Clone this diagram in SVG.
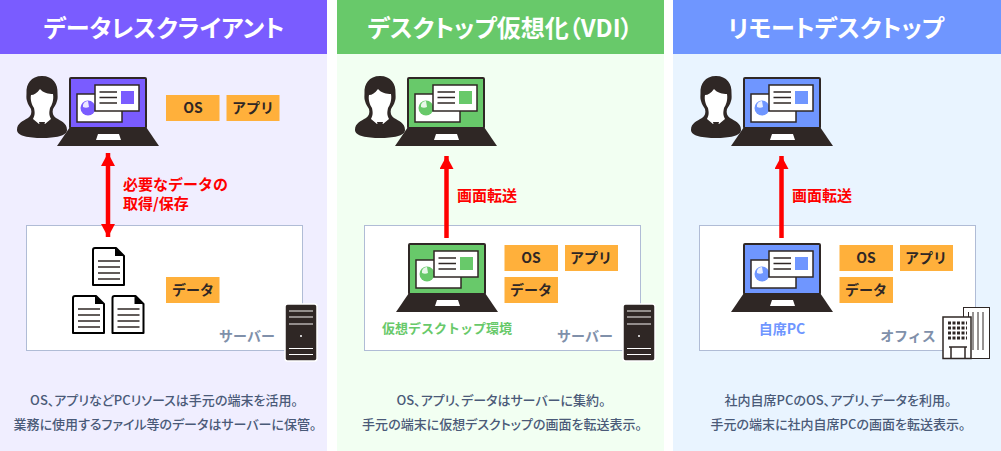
<svg xmlns="http://www.w3.org/2000/svg" xmlns:xlink="http://www.w3.org/1999/xlink" width="1001" height="451" viewBox="0 0 1001 451">
<style>
text{font-family:"Noto Sans CJK JP","Noto Sans",sans-serif;}
.h{font-size:24px;font-weight:700;fill:#fff;text-anchor:middle;font-feature-settings:"palt";}
.t{font-size:14px;font-weight:700;fill:#2f2725;text-anchor:middle;}
.tag{fill:#ffb03b;}
.box{fill:#fff;stroke:#b0bcd6;stroke-width:1;}
.c{font-size:13px;font-weight:500;fill:#4a5a78;text-anchor:middle;font-feature-settings:"palt";}
.g{font-size:14px;font-weight:700;fill:#8090aa;text-anchor:middle;}
.r{font-size:15px;font-weight:700;fill:#f00;}
.d{fill:#2f2725;}
</style>
<defs>
<symbol id="laptop" width="102" height="70" viewBox="0 0 102 70" overflow="visible">
<path class="d" d="M13 50H89L102 69H0Z"/>
<rect x="13" y="1" width="76" height="50" rx="1" fill="currentColor" stroke="#2f2725" stroke-width="2"/>
<path fill="#fff" d="M41 57H62L64 63H39Z"/>
<rect x="20" y="17" width="45" height="28" fill="#fff" stroke="#2f2725" stroke-width="1.5"/>
<circle cx="31" cy="31" r="7.5" fill="currentColor"/>
<path fill="#fff" d="M31 24a5 5 0 0 0-5 6a7 7 0 0 0 6 0z" opacity=".85"/>
<rect x="38" y="8" width="44" height="26" fill="#fff" stroke="#2f2725" stroke-width="1.5"/>
<path d="M42.500 15H60M42.500 20.500H60M42.500 26H60" stroke="#2f2725" stroke-width="1.300"/>
<rect x="64" y="14" width="13" height="13" fill="currentColor"/>
</symbol>
<symbol id="person" width="50" height="63" viewBox="0 0 50 63" overflow="visible">
<path class="d" d="M25 0C14 0 9 8 9.500 17C9.500 20 9 22 10 25C11 29 13 31 14 33C15 37 14 40 11 42C6 45 0 47 0 54C0 60 12 62 25 62C38 62 50 60 50 54C50 47 44 45 39 42C36 40 35 37 36 33C37 31 39 29 40 25C41 22 40.500 20 40.500 17C41 8 36 0 25 0Z"/>
<path fill="#fff" d="M14 19C17 19 20 17 23 13C26 17 32 18 36 18C37 24 35 29 33 32C32 37 32 39 34 43L28 48H22L16 43C18 39 18 37 17 32C15 29 13 24 14 19Z"/>
<path class="d" d="M22 46H28L27 50L29 59H21L23 50Z"/>
</symbol>
<symbol id="doc" width="33" height="40" viewBox="0 0 33 40" overflow="visible">
<path d="M3 1H24L32 9V38H1V3Q1 1 3 1Z" fill="#fff" stroke="#000" stroke-width="2" stroke-linejoin="round"/>
<path d="M23 1V9H32Z" fill="#000"/>
<path d="M6 14H28M6 20H28M6 26H28M6 32H28" stroke="#2f2725" stroke-width="1.300"/>
</symbol>
<symbol id="server" width="34" height="59" viewBox="0 0 34 59" overflow="visible">
<rect x="1" y="1" width="32" height="57" rx="2.500" fill="#2f2725" stroke="#fff" stroke-width="1.500"/>
<path d="M5 8H29" stroke="#b5b0ae" stroke-width="1.500"/><path d="M5 14H29M5 21H29" stroke="#b5b0ae" stroke-width="1.500"/>
<circle cx="17" cy="33" r="1" fill="#fff"/>
<path d="M5 45.500H29M5 51.500H29" stroke="#fff" stroke-width="1"/>
</symbol>
<marker id="ah" markerUnits="userSpaceOnUse" markerWidth="14" markerHeight="14" refX="13" refY="7" orient="auto-start-reverse"><path d="M0 0L13 7L0 14Z" fill="#f00"/></marker>
</defs>

<g id="panel-dataless">
<rect x="0" y="0" width="327" height="451" fill="#f0eeff"/>
<rect x="0" y="0" width="327" height="54" fill="#7a5cff"/>
<text class="h" x="164" y="37">データレスクライアント</text>
<use href="#person" x="17" y="76"/>
<use href="#laptop" x="57" y="77" style="color:#7a5cff"/>
<rect class="tag" x="166" y="95" width="53.500" height="26"/><text class="t" x="193" y="113">OS</text>
<rect class="tag" x="226.500" y="95" width="53" height="26"/><text class="t" x="253" y="113">アプリ</text>
<text class="r" x="123" y="190">必要なデータの</text>
<text class="r" x="123" y="209">取得/保存</text>
<rect class="box" x="26.500" y="225.500" width="276" height="125"/>
<use href="#doc" x="92" y="247"/><use href="#doc" x="72" y="295"/><use href="#doc" x="111.500" y="295"/>
<rect class="tag" x="166" y="277" width="53.500" height="26"/><text class="t" x="193" y="295">データ</text>
<text class="g" x="247" y="341">サーバー</text>
<use href="#server" x="284" y="303"/>
<text class="c" x="164" y="405">OS、アプリなどPCリソースは手元の端末を活用。</text>
<text class="c" x="165" y="429">業務に使用するファイル等のデータはサーバーに保管。</text>
</g>

<g id="panel-vdi">
<rect x="337" y="0" width="327" height="451" fill="#f2fff2"/>
<rect x="337" y="0" width="327" height="54" fill="#68c96a"/>
<text class="h" x="500" y="37">デスクトップ仮想化（VDI）</text>
<use href="#person" x="355" y="76"/>
<use href="#laptop" x="395" y="77" style="color:#68c96a"/>
<rect class="box" x="364.500" y="225.500" width="276" height="125"/>
<use href="#laptop" x="396" y="243" style="color:#68c96a"/>
<rect class="tag" x="504.500" y="245" width="53.500" height="26"/><text class="t" x="531" y="263">OS</text>
<rect class="tag" x="565" y="245" width="53" height="26"/><text class="t" x="591" y="263">アプリ</text>
<rect class="tag" x="504.500" y="277" width="53.500" height="26"/><text class="t" x="531" y="295">データ</text>
<text style="font-size:13px;font-weight:700;fill:#68c96a;text-anchor:middle" x="447" y="333">仮想デスクトップ環境</text>
<text class="g" x="585" y="341">サーバー</text>
<use href="#server" x="622" y="303"/>
<text class="r" x="457" y="201">画面転送</text>
<text class="c" x="501" y="405">OS、アプリ、データはサーバーに集約。</text>
<text class="c" x="502" y="429">手元の端末に仮想デスクトップの画面を転送表示。</text>
</g>

<g id="panel-remote">
<rect x="673" y="0" width="328" height="451" fill="#e9f4ff"/>
<rect x="673" y="0" width="328" height="54" fill="#6f96ff"/>
<text class="h" x="836" y="37">リモートデスクトップ</text>
<use href="#person" x="691" y="76"/>
<use href="#laptop" x="731" y="77" style="color:#6f96ff"/>
<rect class="box" x="699.500" y="225.500" width="276" height="125"/>
<use href="#laptop" x="731" y="243" style="color:#6f96ff"/>
<rect class="tag" x="839.500" y="245" width="53.500" height="26"/><text class="t" x="866" y="263">OS</text>
<rect class="tag" x="900" y="245" width="53" height="26"/><text class="t" x="926" y="263">アプリ</text>
<rect class="tag" x="839.500" y="277" width="53.500" height="26"/><text class="t" x="866" y="295">データ</text>
<text style="font-size:14px;font-weight:700;fill:#6f96ff;text-anchor:middle" x="782" y="334">自席PC</text>
<text class="g" x="908" y="341">オフィス</text>
<g id="office">
<rect x="963.500" y="307.500" width="26" height="51" fill="#fff" stroke="#2f2725" stroke-width="1"/>
<path d="M968.500 312V350M973 312V350M978 312V350M983 312V350" stroke="#2f2725" stroke-width="1"/>
<rect x="943" y="317" width="28" height="41.500" fill="#fff" stroke="#2f2725" stroke-width="1.500"/>
<path d="M948 323H967M948 328H967M948 333H967M948 338H967" stroke="#2f2725" stroke-width="3" stroke-dasharray="3 1.500"/>
<path d="M951 358V347H965V358M949 347H967" fill="none" stroke="#2f2725" stroke-width="1.500"/>
</g>
<text class="r" x="792" y="201">画面転送</text>
<text class="c" x="838" y="405">社内自席PCのOS、アプリ、データを利用。</text>
<text class="c" x="838" y="429">手元の端末に社内自席PCの画面を転送表示。</text>
</g>

<g id="connectors" fill="none" stroke="#f00" stroke-width="4.500">
<path d="M108 153V237" marker-start="url(#ah)" marker-end="url(#ah)"/>
<path d="M446.500 238V156" marker-end="url(#ah)"/>
<path d="M781.500 238V156" marker-end="url(#ah)"/>
</g>
</svg>
